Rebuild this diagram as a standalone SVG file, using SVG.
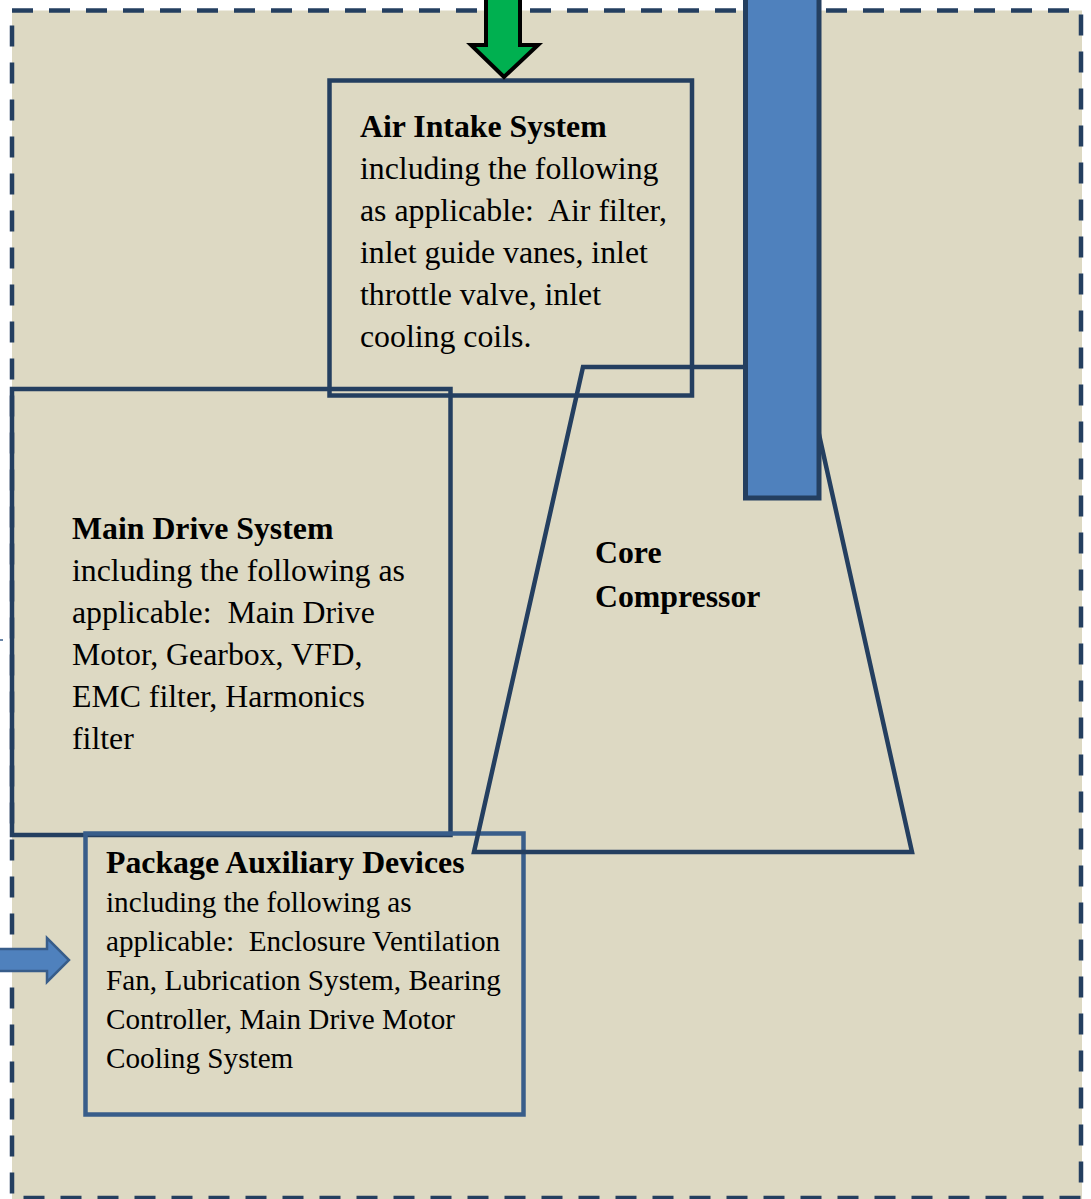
<svg xmlns="http://www.w3.org/2000/svg" width="1091" height="1199" viewBox="0 0 1091 1199">
<style>
.bx{fill:none;stroke:#243F60;stroke-width:4.5}
.pk{fill:none;stroke:#385D8A;stroke-width:4.5}
text{font-family:"Liberation Serif","Times New Roman",serif;fill:#000;white-space:pre}
.t{font-size:31.8px}
.s{font-size:29.2px}
.b{font-weight:bold}
</style>
<rect x="0" y="0" width="1091" height="1199" fill="#FFFFFF"/>
<rect id="background" x="12" y="10.5" width="1070" height="1192" fill="#DDD9C3"/>
<rect id="border" x="12" y="10.5" width="1069" height="1187.5" fill="none" stroke="#243F60" stroke-width="4.5" stroke-dasharray="21 16"/>
<g id="main-drive">
<rect class="bx" x="12" y="389" width="438.5" height="446"/>
<text class="t" x="72" y="539"><tspan class="b">Main Drive System</tspan><tspan x="72" y="581">including the following as</tspan><tspan x="72" y="623">applicable:  Main Drive</tspan><tspan x="72" y="665">Motor, Gearbox, VFD,</tspan><tspan x="72" y="707">EMC filter, Harmonics</tspan><tspan x="72" y="749">filter</tspan></text>
</g>
<g id="air-intake">
<rect class="bx" x="329.5" y="80.5" width="362.5" height="315"/>
<text class="t" x="360" y="137"><tspan class="b">Air Intake System</tspan><tspan x="360" y="179">including the following</tspan><tspan x="360" y="221">as applicable:  Air filter,</tspan><tspan x="360" y="263">inlet guide vanes, inlet</tspan><tspan x="360" y="305">throttle valve, inlet</tspan><tspan x="360" y="347">cooling coils.</tspan></text>
</g>
<g id="package">
<rect class="pk" x="85.5" y="833.5" width="438" height="281"/>
<text class="s" x="106" y="873"><tspan class="b" font-size="31.8">Package Auxiliary Devices</tspan><tspan x="106" y="912">including the following as</tspan><tspan x="106" y="951">applicable:  Enclosure Ventilation</tspan><tspan x="106" y="990">Fan, Lubrication System, Bearing</tspan><tspan x="106" y="1029">Controller, Main Drive Motor</tspan><tspan x="106" y="1068">Cooling System</tspan></text>
</g>
<g id="core-compressor">
<polygon class="bx" points="583,367 804,367 912,852 474,852"/>
<text class="t b" x="595" y="563">Core</text>
<text class="t b" x="595" y="607">Compressor</text>
</g>
<g id="exhaust-stack">
<rect x="745.5" y="-10" width="73.5" height="508" fill="#4F81BD" stroke="#243F60" stroke-width="5"/>
</g>
<g id="connectors">
<polygon points="486,-6 520,-6 520,45 538,45 504,77 471,45 486,45" fill="#00B050" stroke="#000" stroke-width="4"/>
<polygon points="-6,949 47,949 47,938 69,960 47,982 47,971 -6,971" fill="#4F81BD" stroke="#385D8A" stroke-width="2.5"/>
<line x1="0" y1="640" x2="3" y2="640" stroke="#385D8A" stroke-width="1.5"/>
</g>
</svg>
